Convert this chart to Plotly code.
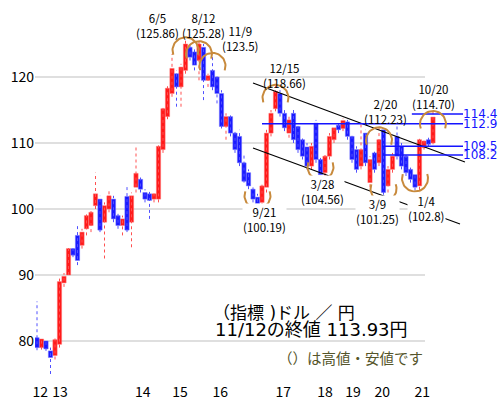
import plotly.graph_objects as go
import numpy as np

# ---------------- data (USD/JPY candles) ----------------
opens  = [80.5, 79.0, 80.0, 78.5, 77.8, 79.5, 88.8, 90.0, 94.0, 96.0,
          94.5, 97.0, 97.5, 100.5, 101.5, 98.0, 100.0, 101.5, 99.0, 97.5,
          101.9, 98.0, 103.3, 104.5, 102.5, 102.3, 101.5, 101.5, 109.0, 114.0,
          117.5, 120.5, 118.5, 121.0, 124.5, 123.8, 122.5, 124.5, 119.5, 121.0,
          120.0, 117.5, 112.5, 114.0, 111.5, 111.0, 107.0, 105.5, 103.0, 101.8,
          101.0, 103.3, 111.5, 115.2, 117.5, 114.5, 111.5, 114.5, 112.5, 110.5,
          109.4, 106.5, 113.0, 107.5, 105.5, 108.0, 110.5, 112.7, 112.2, 113.2,
          111.0, 109.0, 106.5, 111.5, 104.0, 108.5, 107.0, 112.0, 103.5, 106.0,
          111.0, 109.5, 108.0, 106.0, 105.2, 103.5, 109.3, 110.5, 110.0]
highs  = [86.0, 80.5, 80.2, 79.0, 80.5, 89.5, 90.3, 94.3, 94.5, 97.4,
          97.0, 99.5, 100.0, 105.5, 102.0, 101.0, 103.0, 102.0, 99.5, 99.0,
          103.5, 102.5, 109.5, 105.0, 103.0, 102.7, 102.7, 110.0, 115.5, 118.8,
          123.5, 121.0, 122.0, 125.86, 125.2, 124.5, 125.28, 125.0, 120.5, 123.5,
          120.3, 118.0, 114.5, 114.5, 112.0, 112.0, 108.5, 106.0, 103.5, 102.3,
          104.0, 112.0, 115.0, 118.66, 118.0, 115.0, 114.0, 115.0, 113.0, 111.0,
          110.0, 110.0, 113.5, 108.0, 108.5, 111.5, 112.7, 113.2, 113.7, 113.5,
          111.5, 109.5, 113.0, 112.0, 108.0, 109.0, 112.23, 112.2, 106.5, 108.5,
          112.5, 110.0, 108.5, 106.5, 105.5, 111.0, 110.7, 110.8, 114.70]
lows   = [78.6, 78.7, 78.5, 75.0, 77.2, 79.0, 88.2, 90.0, 92.7, 91.5,
          94.0, 96.0, 96.5, 100.0, 96.5, 92.5, 99.5, 98.0, 97.0, 96.0,
          96.5, 94.2, 102.5, 102.5, 101.0, 98.5, 101.0, 101.0, 108.5, 113.6,
          117.0, 115.5, 115.5, 120.5, 122.5, 121.0, 119.5, 116.5, 118.5, 118.0,
          116.0, 112.2, 110.5, 111.0, 108.5, 106.5, 104.0, 103.0, 101.0, 100.19,
          100.5, 102.5, 111.0, 114.8, 114.0, 111.8, 110.8, 110.0, 108.5, 107.5,
          106.0, 106.0, 107.0, 104.56, 105.0, 107.5, 110.0, 111.5, 111.8, 110.5,
          107.0, 105.5, 106.0, 106.5, 103.3, 105.5, 106.5, 101.25, 102.5, 105.5,
          107.5, 106.0, 105.0, 104.0, 102.8, 102.0, 109.0, 109.5, 109.8]
closes = [79.0, 80.3, 78.8, 77.5, 80.2, 89.0, 89.8, 94.0, 93.0, 92.2,
          96.5, 99.0, 99.5, 102.3, 96.8, 100.5, 102.0, 98.5, 97.5, 98.5,
          96.8, 102.0, 105.4, 103.0, 101.5, 101.3, 102.3, 109.5, 115.2, 118.3,
          121.3, 118.5, 121.5, 125.0, 123.0, 121.8, 125.0, 119.5, 120.2, 118.5,
          117.5, 112.5, 114.0, 111.5, 109.0, 107.0, 104.2, 103.5, 101.5, 100.8,
          103.5, 111.5, 114.5, 117.8, 114.5, 112.3, 113.5, 110.5, 109.0, 108.0,
          106.5, 109.5, 107.5, 105.2, 108.0, 111.0, 112.3, 112.0, 113.4, 111.0,
          107.5, 106.0, 109.0, 107.0, 107.5, 106.0, 110.5, 102.5, 106.0, 108.0,
          108.0, 106.5, 105.5, 104.5, 103.3, 110.5, 110.3, 109.8, 113.93]

year_labels = ["12", "13", "14", "15", "16", "17", "18", "19", "20", "21"]
year_index  = [0.7, 5.1, 23.5, 31.8, 40.7, 54.7, 64.0, 70.2, 76.7, 85.6]

y_ticks = [80, 90, 100, 110, 120]

# marked highs / lows: date, value, candle index, kind
mark_dates  = ["6/5", "8/12", "11/9", "12/15", "9/21", "3/28", "2/20", "3/9", "1/4", "10/20"]
mark_values = ["125.86", "125.28", "123.5", "118.66", "100.19", "104.56", "112.23", "101.25", "102.8", "114.70"]
mark_index  = [33, 36, 39, 53, 49, 63, 76, 77, 84, 88]
mark_kind   = ["high", "high", "high", "high", "low", "low", "high", "low", "low", "high"]

# horizontal resistance/support levels (value, start candle index)
level_values = [114.4, 112.9, 109.5, 108.2]
level_start  = [83.3, 50.0, 76.7, 76.9]

# trend channel (candle index, price)
upper_line = [(48.0, 119.09), (95.1, 107.12)]
lower_line = [(48.0, 109.24), (94.0, 97.73)]

# ---------------- layout geometry ----------------
W, H = 500, 400
ML, MR, MT, MB = 35, 0, 0, 18
X0, XS = 37.0, 4.5          # pixel of candle 0, pixels per candle
Y120, YS = 77.0, 6.6        # pixel of 120 yen, pixels per yen
xr = [(ML - X0) / XS, (W - MR - X0) / XS]
yr = [120 - ((H - MB) - Y120) / YS, 120 + (Y120 - MT) / YS]

def px2x(px):
    return (px - X0) / XS

def px2y(py):
    return 120 - (py - Y120) / YS

FONT = "Noto Sans CJK JP"
WIDE = "DejaVu Sans, Noto Sans CJK JP"
idx = list(range(len(closes)))

fig = go.Figure()

# gridlines (stop short of the right edge like the original)
for v in y_ticks:
    fig.add_shape(type="line", xref="x", yref="y", x0=px2x(35), x1=px2x(425), y0=v, y1=v,
                  line=dict(color="#d4d4d4", width=1.5), layer="below")

# wicks
up = [i for i in idx if closes[i] >= opens[i]]
dn = [i for i in idx if closes[i] < opens[i]]
for group, col in ((up, "#ff5050"), (dn, "#5050ff")):
    wx, wy = [], []
    for i in group:
        wx += [i, i, None]
        wy += [lows[i], highs[i], None]
    fig.add_trace(go.Scatter(x=wx, y=wy, mode="lines", line=dict(color=col, width=1, dash="dot"),
                             hoverinfo="skip", showlegend=False))

# bodies
for group, col, edge in ((up, "#ff1a1a", "#ff7070"), (dn, "#1a1aff", "#7070ff")):
    base = [min(opens[i], closes[i]) for i in group]
    hgt = [max(abs(closes[i] - opens[i]), 0.3) for i in group]
    fig.add_trace(go.Bar(x=group, y=hgt, base=base, width=0.95,
                         marker=dict(color=col, line=dict(color=edge, width=0.5)),
                         hoverinfo="skip", showlegend=False))

# trend channel
for ln in (upper_line, lower_line):
    fig.add_trace(go.Scatter(x=[ln[0][0], ln[1][0]], y=[ln[0][1], ln[1][1]], mode="lines",
                             line=dict(color="black", width=1.2), hoverinfo="skip", showlegend=False))

# blue levels
for v, s in zip(level_values, level_start):
    fig.add_trace(go.Scatter(x=[s, px2x(463)], y=[v, v], mode="lines",
                             line=dict(color="#1414ff", width=1.5), hoverinfo="skip", showlegend=False))
    fig.add_annotation(x=px2x(462), y=v, text=f"{v:.1f}", showarrow=False, xanchor="left",
                       yanchor="middle", borderpad=0,
                       font=dict(family=WIDE, size=12, color="#1414ff"))

# arcs around marked points and labels
R = 13.0
label_shift = {  # pixel offsets of label block centre from the marked point
    "6/5": (-28, 13), "8/12": (4, 17), "11/9": (28, 15), "12/15": (9, 10),
    "9/21": (7, -12), "3/28": (2, -13), "2/20": (6, 17), "3/9": (-6, -11),
    "1/4": (11, -18), "10/20": (0, 15),
}
for d, val, i, k in zip(mark_dates, mark_values, mark_index, mark_kind):
    v = float(val)
    if k == "high":
        ang = np.linspace(np.radians(-20), np.radians(200), 40)
        sign = 1
    else:
        ang = np.linspace(np.radians(160), np.radians(380), 40)
        sign = -1
    cy = v - sign * (R - 1) / YS
    xs = i + R * np.cos(ang) / XS
    ys = cy + R * np.sin(ang) / YS
    fig.add_trace(go.Scatter(x=xs, y=ys, mode="lines", line=dict(color="#c88a3c", width=2),
                             hoverinfo="skip", showlegend=False))
    sx, sy = label_shift[d]
    fig.add_annotation(x=i, y=v, xshift=sx, yshift=sy, text=f"{d}<br>({val})", showarrow=False,
                       xanchor="center", yanchor="middle", align="center",
                       bgcolor="white" if k == "low" else "rgba(0,0,0,0)",
                       borderpad=0, font=dict(family=FONT, size=11.5, color="black"))

# title texts
fig.add_annotation(x=px2x(212), y=px2y(313), text="（指標 )ドル ／ 円", showarrow=False,
                   xanchor="left", yanchor="middle", borderpad=0,
                   font=dict(family=WIDE, size=17, color="black"))
fig.add_annotation(x=px2x(214), y=px2y(329), text="11/12の終値 113.93円", showarrow=False,
                   xanchor="left", yanchor="middle", borderpad=0,
                   font=dict(family=WIDE, size=18, color="black"))
fig.add_annotation(x=px2x(276), y=px2y(357), text="（）は高値・安値です", showarrow=False,
                   xanchor="left", yanchor="middle",
                   font=dict(family=FONT, size=14.5, color="#55552a"))

fig.update_layout(
    width=W, height=H, margin=dict(l=ML, r=MR, t=MT, b=MB),
    paper_bgcolor="white", plot_bgcolor="white", barmode="overlay",
    xaxis=dict(range=xr, tickvals=year_index, ticktext=year_labels, showgrid=False,
               zeroline=False, showline=False, ticks="",
               tickfont=dict(family=FONT, size=14, color="black")),
    yaxis=dict(range=yr, tickvals=y_ticks, showgrid=False, zeroline=False, showline=False,
               ticks="", tickfont=dict(family=FONT, size=14, color="black")),
    showlegend=False,
)

fig.write_html("out.html", config={"displayModeBar": False},
               post_script="document.body.style.margin='0';document.body.style.padding='0';")
